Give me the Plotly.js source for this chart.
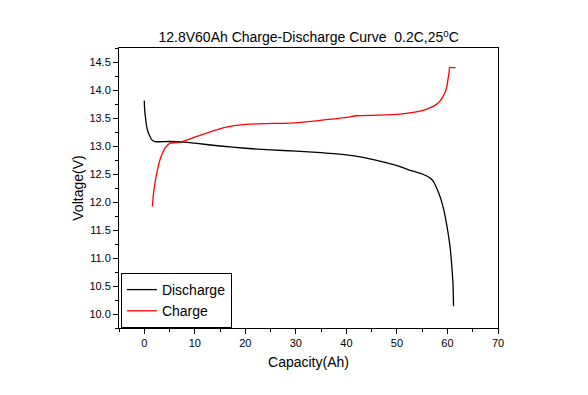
<!DOCTYPE html>
<html>
<head>
<meta charset="utf-8">
<script src="https://cdn.plot.ly/plotly-3.0.1.min.js"></script>
<style>html,body{margin:0;padding:0;background:#fff;}#chart{width:588px;height:395px;}</style>
</head>
<body>
<div id="chart"></div>
<script>
var dischargeCapacity = [0.0, 0.08, 0.25, 0.47, 0.75, 1.13, 1.5, 2.1, 5, 8, 10, 15, 20, 25, 30, 35, 40, 43, 46.6, 50, 53.2, 55, 56.0, 56.8, 57.4, 57.9, 58.4, 58.8, 59.3, 59.8, 60.2, 60.6, 60.9, 61.1, 61.2];
var dischargeVoltage = [13.81, 13.65, 13.5, 13.35, 13.25, 13.17, 13.11, 13.08, 13.08, 13.07, 13.05, 13.0, 12.96, 12.93, 12.91, 12.88, 12.84, 12.8, 12.73, 12.65, 12.55, 12.5, 12.46, 12.41, 12.34, 12.24, 12.13, 12.02, 11.85, 11.62, 11.4, 11.13, 10.8, 10.53, 10.14];
var chargeCapacity = [1.6, 1.8, 2.1, 2.6, 3.1, 4.1, 5.1, 7.1, 10.4, 14.3, 17, 20.9, 24, 28.8, 34.1, 38, 40, 42, 46.6, 50.6, 53.2, 55, 56.5, 57.6, 58.5, 59.5, 59.9, 60.1, 60.3, 60.45, 61.0, 61.6];
var chargeVoltage = [11.92, 12.12, 12.33, 12.57, 12.75, 12.96, 13.05, 13.07, 13.17, 13.29, 13.35, 13.39, 13.4, 13.41, 13.45, 13.49, 13.51, 13.54, 13.55, 13.57, 13.6, 13.63, 13.68, 13.73, 13.8, 13.95, 14.07, 14.19, 14.3, 14.4, 14.4, 14.4];
var seriesNames = ["Discharge", "Charge"];
var xTicks = [0, 10, 20, 30, 40, 50, 60, 70];
var yTicks = [10.0, 10.5, 11.0, 11.5, 12.0, 12.5, 13.0, 13.5, 14.0, 14.5];

var traces = [
  {x: dischargeCapacity, y: dischargeVoltage, name: seriesNames[0], mode: 'lines', line: {color: '#000000', width: 1.3, shape: 'spline', smoothing: 0.8}},
  {x: chargeCapacity, y: chargeVoltage, name: seriesNames[1], mode: 'lines', line: {color: '#ff0000', width: 1.3, shape: 'spline', smoothing: 0.6}}
];

var font = {family: 'Arial, "Liberation Sans", sans-serif', color: '#000'};
var layout = {
  width: 588, height: 395,
  margin: {l: 119, r: 90, t: 48, b: 67},
  paper_bgcolor: '#fff', plot_bgcolor: '#fff',
  font: font,
  showlegend: true,
  title: {text: '12.8V60Ah Charge-Discharge Curve&nbsp; 0.2C,25<sup>0</sup>C', font: {family: font.family, size: 14, color: '#000'}, x: 0.525, xanchor: 'center', y: 0.905, yanchor: 'middle'},
  xaxis: {
    range: [-5, 70], tickvals: xTicks, ticktext: xTicks.map(String),
    ticks: 'outside', ticklen: 5, tickwidth: 1, tickcolor: '#000',
    minor: {dtick: 5, ticks: 'outside', ticklen: 3, tickcolor: '#000'},
    showline: true, linecolor: '#000', linewidth: 1, mirror: true,
    showgrid: false, zeroline: false,
    tickfont: {family: font.family, size: 11, color: '#000'},
    title: {text: 'Capacity(Ah)', font: {family: font.family, size: 14, color: '#000'}, standoff: 8}
  },
  yaxis: {
    range: [9.75, 14.75], tickvals: yTicks, ticktext: yTicks.map(function(v){return v.toFixed(1);}),
    ticks: 'outside', ticklen: 5, tickwidth: 1, tickcolor: '#000',
    minor: {dtick: 0.25, tick0: 0, ticks: 'outside', ticklen: 3, tickcolor: '#000'},
    showline: true, linecolor: '#000', linewidth: 1, mirror: true,
    showgrid: false, zeroline: false,
    tickfont: {family: font.family, size: 11, color: '#000'},
    title: {text: 'Voltage(V)', font: {family: font.family, size: 14, color: '#000'}, standoff: 2}
  },
  legend: {x: 0.005, y: 0.0, xanchor: 'left', yanchor: 'bottom', bordercolor: '#000', borderwidth: 1, bgcolor: '#fff',
    font: {family: font.family, size: 14, color: '#000'}, tracegroupgap: 0, itemwidth: 30}
};
Plotly.newPlot('chart', traces, layout, {displayModeBar: false, staticPlot: true});
</script>
</body>
</html>
